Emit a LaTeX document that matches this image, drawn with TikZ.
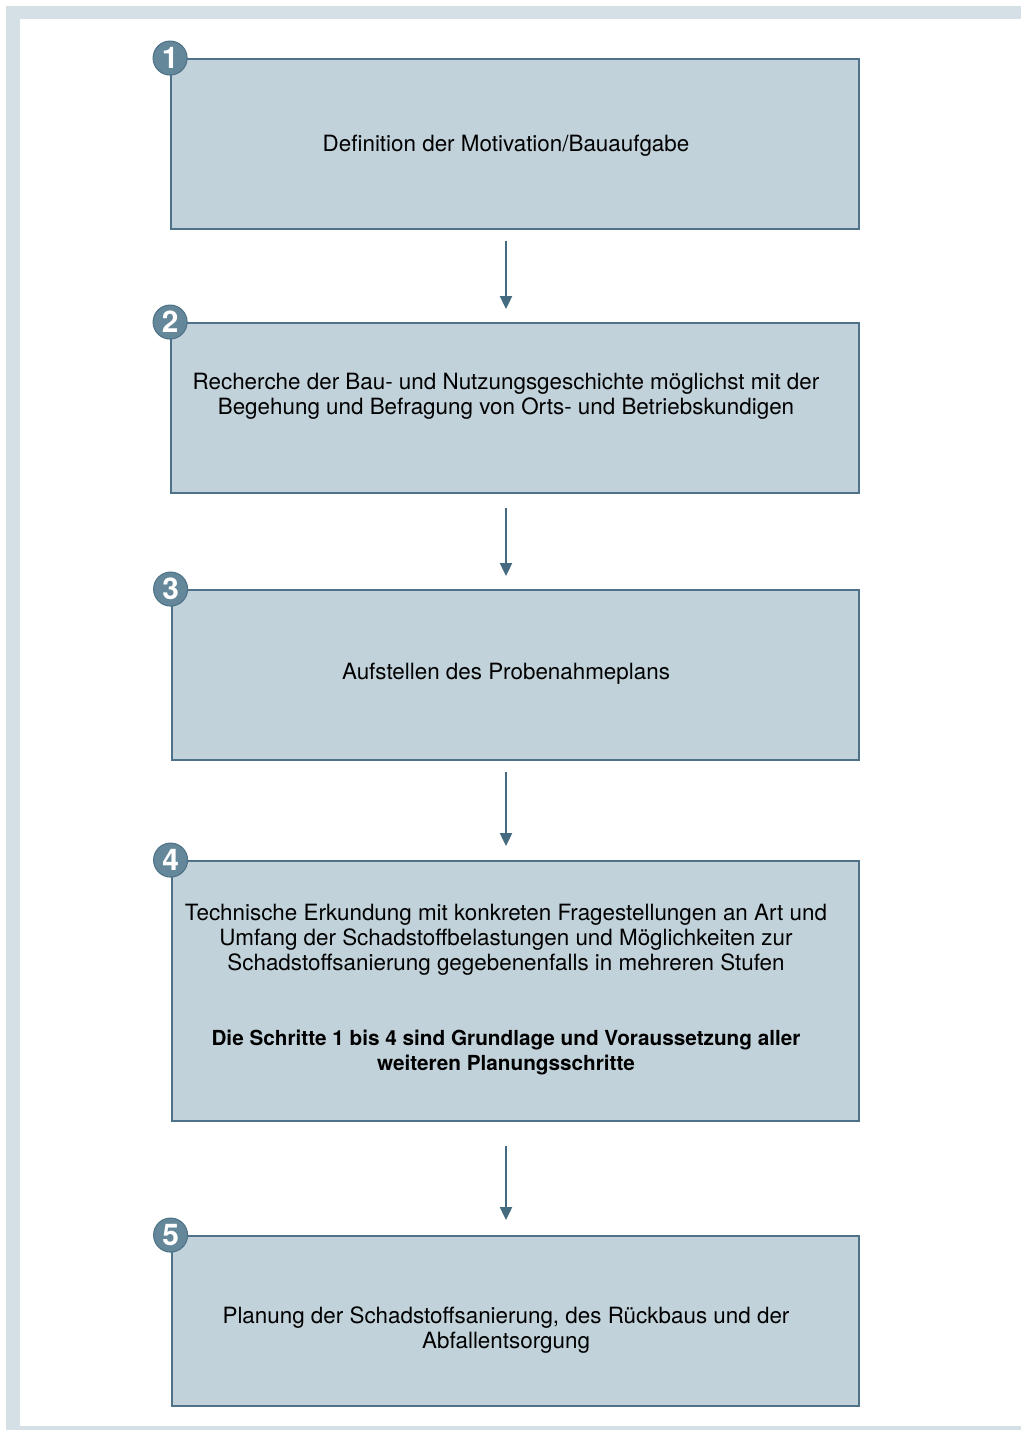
\documentclass[tikz,border=0pt]{standalone}
\usepackage{fontspec}
\setmainfont{TeX Gyre Heros}
\usetikzlibrary{positioning,arrows.meta,calc}

\definecolor{framecol}{HTML}{D5E0E6}
\definecolor{boxfill}{HTML}{C1D2DA}
\definecolor{boxline}{HTML}{4E7287}
\definecolor{badgecol}{HTML}{648899}
\definecolor{arrowcol}{HTML}{456B80}

\newcommand{\boldnote}[1]{{\fontsize{11.8}{14.2}\selectfont\bfseries #1}}

\tikzset{
  stepbox/.style={draw=boxline,fill=boxfill,line width=1.1pt,minimum width=13.76cm,minimum height=3.4cm,inner sep=0pt},
  steptext/.style={align=center,font=\fontsize{12.75}{14.2}\selectfont},
  badge/.style={circle,fill=badgecol,draw=boxline,line width=0.6pt,minimum size=0.68cm,inner sep=0pt,text=white,font=\fontsize{17}{17}\selectfont\bfseries},
  flow/.style={-{Triangle[length=2.6mm,width=2.4mm]},draw=arrowcol,fill=arrowcol,line width=1.2pt}
}

\begin{document}
\begin{tikzpicture}[x=0.02cm,y=-0.02cm]
\useasboundingbox (0,0) rectangle (1021,1430);
% frame
\fill[framecol] (6,6) rectangle (1021,1430);
\fill[white] (20,19) rectangle (1021,1426);

% boxes
\node[stepbox] (b1) at (515,144) {};
\node[stepbox] (b2) at (515,408) {};
\node[stepbox] (b3) at (515.5,675) {};
\node[stepbox,minimum height=5.2cm] (b4) at (515.5,991) {};
\node[stepbox] (b5) at (515.5,1321) {};

% texts
\node[steptext] (t1) at (506,146) {Definition der Motivation/Bauaufgabe};
\node[steptext] (t2) at (506,396.5) {Recherche der Bau- und Nutzungsgeschichte möglichst mit der\\Begehung und Befragung von Orts- und Betriebskundigen};
\node[steptext] (t3) at (506,674) {Aufstellen des Probenahmeplans};
\node[steptext] (t4) at (506,989.5) {Technische Erkundung mit konkreten Fragestellungen an Art und\\Umfang der Schadstoffbelastungen und Möglichkeiten zur\\Schadstoffsanierung gegebenenfalls in mehreren Stufen\\[1.01cm]
  \boldnote{Die Schritte 1 bis 4 sind Grundlage und Voraussetzung aller}\\\boldnote{weiteren Planungsschritte}};
\node[steptext] (t5) at (506,1330) {Planung der Schadstoffsanierung, des Rückbaus und der\\Abfallentsorgung};

% numbers
\node[badge] (n1) at (b1.north west) {1};
\node[badge] (n2) at (b2.north west) {2};
\node[badge] (n3) at (b3.north west) {3};
\node[badge] (n4) at (b4.north west) {4};
\node[badge] (n5) at (b5.north west) {5};

% arrows
\draw[flow] ($(b1.south)+(-9,11)$) -- ($(b2.north)+(-9,-13)$);
\draw[flow] ($(b2.south)+(-9,14)$) -- ($(b3.north)+(-9.5,-13)$);
\draw[flow] ($(b3.south)+(-9.5,11)$) -- ($(b4.north)+(-9.5,-14)$);
\draw[flow] ($(b4.south)+(-9.5,24)$) -- ($(b5.north)+(-9.5,-15)$);
\end{tikzpicture}
\end{document}
